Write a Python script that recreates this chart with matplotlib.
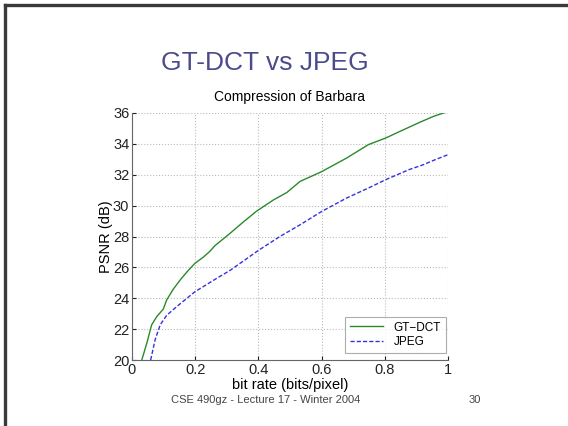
import matplotlib
matplotlib.use("Agg")
import matplotlib.pyplot as plt
from matplotlib.lines import Line2D

plt.rcParams['font.family'] = ['Liberation Sans', 'DejaVu Sans']

# GT-DCT curve
gt_rate = [0.031, 0.047, 0.062, 0.078, 0.099, 0.11, 0.131, 0.155, 0.178, 0.199,
           0.225, 0.247, 0.262, 0.31, 0.35, 0.394, 0.447, 0.468, 0.49, 0.532,
           0.6, 0.679, 0.748, 0.803, 0.848, 0.911, 0.954, 1.0]
gt_psnr = [20.0, 21.1, 22.27, 22.8, 23.3, 23.9, 24.6, 25.25, 25.8, 26.26,
           26.65, 27.05, 27.4, 28.2, 28.9, 29.64, 30.36, 30.6, 30.85, 31.57,
           32.2, 33.08, 33.95, 34.38, 34.81, 35.4, 35.78, 36.1]

# JPEG curve
jp_rate = [0.059, 0.073, 0.089, 0.11, 0.141, 0.199, 0.268, 0.31, 0.40, 0.468,
           0.532, 0.6, 0.679, 0.748, 0.803, 0.875, 0.922, 0.954, 1.0]
jp_psnr = [20.0, 21.3, 22.27, 22.9, 23.45, 24.42, 25.29, 25.8, 27.1, 28.0,
           28.76, 29.62, 30.49, 31.14, 31.68, 32.32, 32.65, 32.93, 33.3]

xticks = [0, 0.2, 0.4, 0.6, 0.8, 1]
xlabels = ['0', '0.2', '0.4', '0.6', '0.8', '1']
yticks = [20, 22, 24, 26, 28, 30, 32, 34, 36]

fig = plt.figure(figsize=(5.68, 4.26), dpi=100)
fig.patch.set_facecolor('white')

# slide frame (left and top edge)
fig.add_artist(Line2D([4.5 / 568, 4.5 / 568], [0, 1 - 4.5 / 426], color='#3a3a3a', lw=2.4))
fig.add_artist(Line2D([4.5 / 568, 1], [1 - 4.5 / 426, 1 - 4.5 / 426], color='#3a3a3a', lw=2.4))

fig.text(265 / 568, 1 - 63 / 426, 'GT-DCT vs JPEG', color='#4b4b8c', fontsize=19,
         ha='center', va='center')

ax = fig.add_axes([132 / 568, 1 - 360 / 426, 316 / 568, 247 / 426])
ax.plot(gt_rate, gt_psnr, color='#2a8a2a', lw=1.0, label='GT\u2212DCT')
ax.plot(jp_rate, jp_psnr, color='#3333dd', lw=1.0, ls=(0, (3, 1.5)), label='JPEG')

ax.set_xlim(0, 1)
ax.set_ylim(20, 36)
ax.set_xticks(xticks)
ax.set_xticklabels(xlabels)
ax.set_yticks(yticks)
ax.tick_params(direction='in', length=3, labelsize=10.5, pad=2, colors='#222222')
ax.grid(True, ls=':', color='#bbbbbb', lw=0.8)
for s in ['top', 'right']:
    ax.spines[s].set_visible(False)
for s in ['left', 'bottom']:
    ax.spines[s].set_color('#666666')
    ax.spines[s].set_linewidth(0.8)

ax.set_title('Compression of Barbara', fontsize=10, pad=9)
ax.set_xlabel('bit rate (bits/pixel)', fontsize=10.5, labelpad=1)
ax.set_ylabel('PSNR (dB)', fontsize=10.5, labelpad=0)

leg = ax.legend(loc='lower right', bbox_to_anchor=(1.0, 0.02), fontsize=8.5,
                frameon=True, fancybox=False, edgecolor='#999999',
                handlelength=2.8, handletextpad=0.9, borderpad=0.4,
                labelspacing=0.2, borderaxespad=0.2)
leg.get_frame().set_linewidth(0.8)

fig.text(266 / 568, 1 - 400 / 426, 'CSE 490gz - Lecture 17 - Winter 2004',
         color='#444444', fontsize=8, ha='center', va='center')
fig.text(475 / 568, 1 - 400 / 426, '30', color='#444444', fontsize=8,
         ha='center', va='center')

fig.savefig('out.png', dpi=100)
